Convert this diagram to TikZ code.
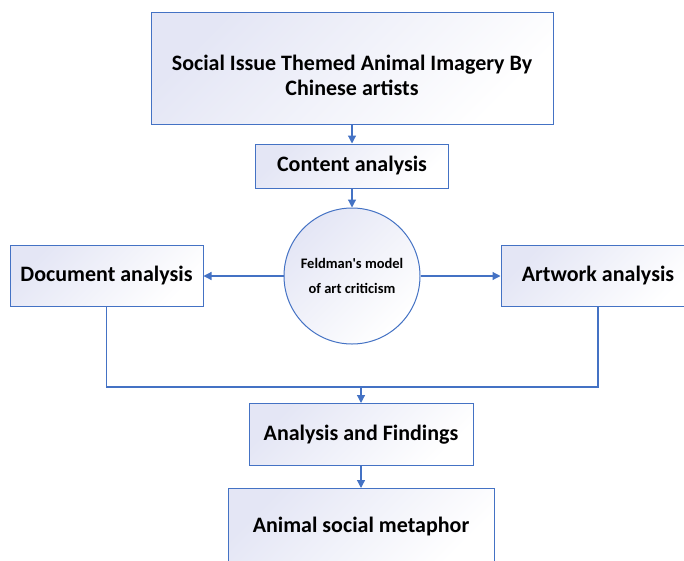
\documentclass[tikz,border=0pt]{standalone}
\usepackage{fontspec}
\setmainfont{Carlito}
\usepackage{tikz}
\usetikzlibrary{arrows.meta,positioning,shapes.geometric}
\definecolor{officeblue}{RGB}{68,114,196}
\definecolor{boxtint}{RGB}{228,230,245}
\tikzset{>/.tip={Triangle[length=8pt,width=8pt]}}

\begin{document}
\begin{tikzpicture}[x=1pt,y=1pt,node distance=19pt,
  box/.style={draw=officeblue,line width=1pt,left color=boxtint,right color=white,shading angle=45,
    font=\fontsize{22}{25}\selectfont\bfseries,align=center,inner sep=2pt},
  model/.style={circle,draw=officeblue,line width=1pt,left color=boxtint,right color=white,shading angle=45,
    minimum size=136pt,font=\fontsize{14.5}{25}\selectfont\bfseries,align=center},
  link/.style={draw=officeblue,line width=1.2pt}]
  \useasboundingbox (0,0) rectangle (684,-560);
  \node(theme)[box,minimum width=402pt,minimum height=112pt] at (352,-68)
    {\rule{0pt}{30pt}Social Issue Themed Animal Imagery By\\Chinese artists};
  \node(content)[box,minimum width=193pt,minimum height=44pt,below=of theme]{Content analysis};
  \node(feldman)[model,below=of content]{Feldman\textquotesingle s model\\of art criticism};
  \node(document)[box,minimum width=193pt,minimum height=61pt,left=80pt of feldman]{Document analysis};
  \node(artwork)[box,minimum width=194pt,minimum height=61pt,right=80pt of feldman]{Artwork analysis};
  \coordinate(join) at (361,-387);
  \node(findings)[box,minimum width=224pt,minimum height=62pt,below=16pt of join]{Analysis and Findings};
  \node(metaphor)[box,minimum width=266pt,minimum height=76pt,below=22pt of findings]{Animal social metaphor};
  \draw[link,->] (theme) -- (content);
  \draw[link,->] (content) -- (feldman);
  \draw[link,->] (feldman) -- (document);
  \draw[link,->] (feldman) -- (artwork);
  \draw[link] (document.south) |- (join) -| (artwork.south);
  \draw[link,->] (join) -- (findings);
  \draw[link,->] (findings) -- (metaphor);
\end{tikzpicture}
\end{document}
